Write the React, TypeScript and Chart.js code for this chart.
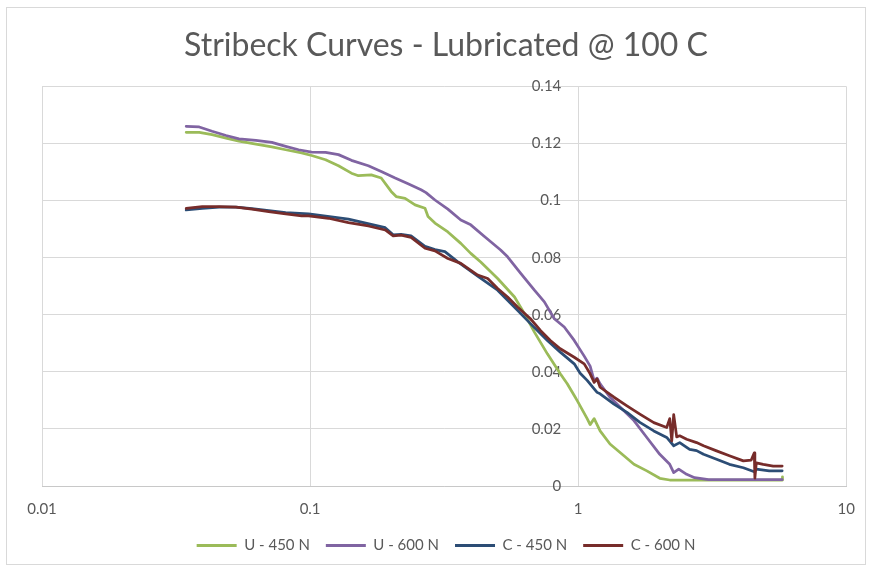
import { useEffect, useRef } from 'react';
import { Chart, registerables } from 'chart.js';

Chart.register(...registerables);

const chartTitle = 'Stribeck Curves - Lubricated @ 100 C';
const seriesNames = ['U - 450 N', 'U - 600 N', 'C - 450 N', 'C - 600 N'];
const seriesColors = ['#9BBB59', '#8064A2', '#2C4D75', '#772C2A'];

const u450X = [0.0345, 0.0386, 0.0431, 0.0486, 0.0543, 0.0628, 0.072, 0.0811, 0.093, 0.1013, 0.1142, 0.1276, 0.1426, 0.1514, 0.1691, 0.1842, 0.2006, 0.2094, 0.2261, 0.2463, 0.2683, 0.2753, 0.2922, 0.3265, 0.3649, 0.3974, 0.4329, 0.5006, 0.5788, 0.6304, 0.6866, 0.7674, 0.8574, 0.9103, 0.9665, 0.9915, 1.08, 1.108, 1.147, 1.207, 1.314, 1.481, 1.614, 1.803, 2.015, 2.195, 2.764, 3.664, 4.616, 5.337, 5.764, 5.78];
const u450Y = [0.1239, 0.1239, 0.1231, 0.1219, 0.1208, 0.1198, 0.1188, 0.1178, 0.1167, 0.1158, 0.1143, 0.1122, 0.1096, 0.1087, 0.109, 0.1079, 0.1032, 0.1014, 0.1008, 0.0985, 0.0973, 0.0944, 0.0921, 0.089, 0.085, 0.0815, 0.0785, 0.0727, 0.0662, 0.0604, 0.0539, 0.0463, 0.0393, 0.0358, 0.0317, 0.0299, 0.0236, 0.0215, 0.0236, 0.0193, 0.0147, 0.0106, 0.0076, 0.0053, 0.0027, 0.0021, 0.0021, 0.0021, 0.0021, 0.0021, 0.0021, 0.0032];

const u600X = [0.0345, 0.0386, 0.0431, 0.0486, 0.0543, 0.0628, 0.072, 0.0811, 0.0906, 0.1013, 0.1142, 0.1276, 0.1426, 0.1649, 0.1842, 0.2076, 0.232, 0.2593, 0.2706, 0.2922, 0.3265, 0.3649, 0.3974, 0.4481, 0.5136, 0.5452, 0.6093, 0.6866, 0.7478, 0.8145, 0.8872, 0.9665, 1.053, 1.108, 1.147, 1.176, 1.207, 1.314, 1.481, 1.614, 1.803, 2.015, 2.195, 2.271, 2.371, 2.538, 2.718, 3.063, 3.664, 4.616, 5.337, 5.764];
const u600Y = [0.126, 0.1258, 0.1243, 0.1228, 0.1216, 0.1211, 0.1204, 0.119, 0.1178, 0.117, 0.1169, 0.1161, 0.1141, 0.1122, 0.1102, 0.1079, 0.1059, 0.1038, 0.1028, 0.1002, 0.097, 0.0932, 0.0915, 0.0873, 0.0827, 0.0803, 0.0746, 0.0686, 0.0645, 0.0586, 0.0557, 0.051, 0.0455, 0.042, 0.0369, 0.0378, 0.0358, 0.0311, 0.0264, 0.0229, 0.017, 0.0111, 0.0076, 0.0047, 0.0059, 0.0041, 0.0029, 0.0022, 0.0022, 0.0022, 0.0022, 0.0022];

const c450X = [0.0345, 0.0396, 0.0458, 0.0529, 0.0607, 0.0701, 0.0811, 0.0987, 0.139, 0.1906, 0.2041, 0.2185, 0.238, 0.2683, 0.2922, 0.3183, 0.3556, 0.4218, 0.5006, 0.5939, 0.6636, 0.7674, 0.8574, 0.9665, 1.017, 1.08, 1.147, 1.176, 1.207, 1.36, 1.52, 1.698, 1.914, 2.139, 2.271, 2.391, 2.538, 2.604, 2.764, 2.934, 3.281, 3.664, 4.13, 4.538, 4.616, 5.158, 5.764];
const c450Y = [0.0967, 0.0973, 0.0977, 0.0977, 0.0972, 0.0965, 0.0958, 0.0953, 0.0935, 0.0905, 0.088, 0.0882, 0.0876, 0.084, 0.0828, 0.0821, 0.0785, 0.0735, 0.0686, 0.0616, 0.0569, 0.051, 0.0469, 0.0428, 0.0395, 0.037, 0.034, 0.0328, 0.0323, 0.0287, 0.0258, 0.0223, 0.0193, 0.017, 0.0141, 0.0152, 0.0135, 0.0128, 0.0124, 0.0111, 0.0094, 0.0076, 0.0064, 0.005, 0.0059, 0.0053, 0.0053];

const c600X = [0.0345, 0.0396, 0.0458, 0.0529, 0.0607, 0.0701, 0.0811, 0.093, 0.0987, 0.1171, 0.139, 0.1649, 0.1906, 0.2041, 0.2185, 0.238, 0.2683, 0.2922, 0.3265, 0.3649, 0.4218, 0.4597, 0.5006, 0.5452, 0.5939, 0.6636, 0.7228, 0.7873, 0.8574, 0.9665, 1.053, 1.108, 1.147, 1.176, 1.207, 1.36, 1.52, 1.698, 1.914, 2.139, 2.195, 2.233, 2.271, 2.33, 2.391, 2.538, 2.764, 2.934, 3.281, 3.664, 4.13, 4.42, 4.538, 4.56, 4.616, 4.9, 5.337, 5.764];
const c600Y = [0.0973, 0.0979, 0.0979, 0.0977, 0.097, 0.0961, 0.0953, 0.0946, 0.0946, 0.0938, 0.0923, 0.0911, 0.0897, 0.0876, 0.0879, 0.0871, 0.0833, 0.0824, 0.0797, 0.078, 0.0739, 0.0727, 0.0692, 0.0662, 0.0627, 0.0586, 0.0545, 0.051, 0.0481, 0.0451, 0.0428, 0.0393, 0.0363, 0.0375, 0.0346, 0.0311, 0.0281, 0.0252, 0.0222, 0.0205, 0.0236, 0.0158, 0.025, 0.0172, 0.0176, 0.0164, 0.0152, 0.0141, 0.0123, 0.0106, 0.0088, 0.0091, 0.0116, 0.0028, 0.0081, 0.0076, 0.007, 0.007];

const seriesX = [u450X, u600X, c450X, c600X];
const seriesY = [u450Y, u600Y, c450Y, c600Y];

const xTickValues = [0.01, 0.1, 1, 10];
const xTickLabels = ['0.01', '0.1', '1', '10'];
const yTickLabels = ['0', '0.02', '0.04', '0.06', '0.08', '0.1', '0.12', '0.14'];

const TEXT = '#595959';
const GRID = '#d9d9d9';
const FONT = 'Lato, "Open Sans", sans-serif';

const framePlugin = {
  id: 'frame',
  beforeDraw(chart: any) {
    const ctx = chart.ctx;
    ctx.save();
    ctx.fillStyle = '#ffffff';
    ctx.fillRect(0, 0, chart.width, chart.height);
    ctx.strokeStyle = '#d9d9d9';
    ctx.lineWidth = 1;
    ctx.strokeRect(6.5, 7.5, 859, 557);
    ctx.restore();
  },
};

export default function App() {
  const ref = useRef<HTMLCanvasElement>(null);
  useEffect(() => {
    document.body.style.margin = '0';
    const datasets = seriesNames.map((name, s) => ({
      label: name,
      data: seriesX[s].map((x, i) => ({ x, y: seriesY[s][i] })),
      borderColor: seriesColors[s],
      backgroundColor: seriesColors[s],
      borderWidth: 2.75,
      pointRadius: 0,
      tension: 0,
      borderJoinStyle: 'round' as const,
      borderCapStyle: 'round' as const,
      order: 4 - s,
    }));
    const chart = new Chart(ref.current!, {
      type: 'line',
      data: { datasets },
      plugins: [framePlugin],
      options: {
        animation: false,
        responsive: false,
        layout: { padding: { left: 42, right: 19, top: 0, bottom: 6 } },
        plugins: {
          title: {
            display: true,
            text: chartTitle,
            color: TEXT,
            font: { family: FONT, size: 32, weight: 'normal' },
            padding: { top: 26, bottom: 22 },
          },
          legend: {
            position: 'bottom',
            labels: {
              boxWidth: 40,
              boxHeight: 3,
              padding: 16,
              color: TEXT,
              font: { family: FONT, size: 15 },
              sort: (a: any, b: any) => a.datasetIndex - b.datasetIndex,
              generateLabels: (c: any) =>
                (Chart.defaults.plugins.legend.labels.generateLabels as any)(c).map((l: any) => ({
                  ...l,
                  lineWidth: 0,
                  fillStyle: seriesColors[l.datasetIndex],
                })),
            },
          },
          tooltip: { enabled: false },
        },
        scales: {
          x: {
            type: 'logarithmic',
            min: 0.01,
            max: 10,
            afterBuildTicks: (axis: any) => {
              axis.ticks = xTickValues.map((v) => ({ value: v }));
            },
            afterFit: (axis: any) => {
              axis.height = 36;
            },
            ticks: {
              color: TEXT,
              font: { family: FONT, size: 15 },
              padding: 14,
              maxRotation: 0,
              autoSkip: false,
              callback: (v: any) => xTickLabels[xTickValues.indexOf(Number(v))] ?? '',
            },
            grid: { color: GRID, lineWidth: 1, drawTicks: false },
            border: { color: '#c8c8c8', width: 1 },
          },
          y: {
            type: 'linear',
            position: { x: 0.865 } as any,
            min: 0,
            max: 0.14,
            ticks: {
              stepSize: 0.02,
              color: TEXT,
              font: { family: FONT, size: 15 },
              callback: (_v: any, i: number) => yTickLabels[i],
            },
            grid: { color: GRID, lineWidth: 1, drawTicks: false },
            border: { display: false },
          },
        },
      },
    });
    return () => chart.destroy();
  }, []);
  return (
    <div style={{ width: 869, height: 569 }}>
      <canvas ref={ref} width={869} height={569} />
    </div>
  );
}
